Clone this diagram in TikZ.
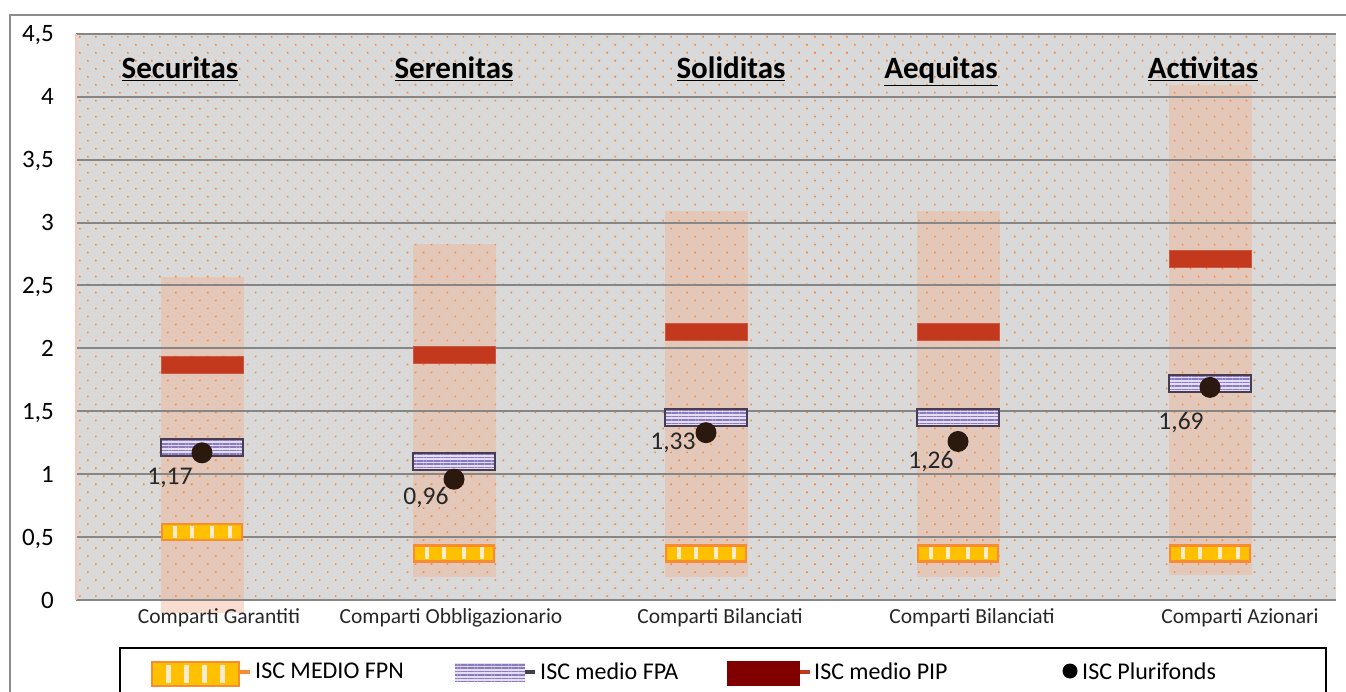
\documentclass[tikz,border=0pt]{standalone}
\usepackage{fontspec}
\setmainfont{Carlito}
\usetikzlibrary{patterns.meta}

\definecolor{plotbg}{RGB}{217,217,217}
\definecolor{gridgray}{RGB}{134,134,134}
\definecolor{framegray}{RGB}{140,140,140}
\definecolor{dotorange}{RGB}{247,135,50}
\definecolor{bandpeach}{RGB}{240,180,150}
\definecolor{salmonedge}{RGB}{250,200,180}
\definecolor{fpngold}{RGB}{255,192,0}
\definecolor{fpnedge}{RGB}{247,140,50}
\definecolor{fpnstripe}{RGB}{255,234,205}
\definecolor{fpafill}{RGB}{228,222,242}
\definecolor{fpaline}{RGB}{140,122,192}
\definecolor{fpaedge}{RGB}{72,60,82}
\definecolor{pipred}{RGB}{194,57,30}
\definecolor{pipdark}{RGB}{128,0,0}
\definecolor{plurdot}{RGB}{43,24,14}

\tikzset{
  gridline/.style={gridgray, line width=2pt},
  band/.style={fill=bandpeach, fill opacity=0.45},
  pipbar/.style={fill=pipred, draw=pipred!85!white, line width=0.8pt},
  fpabar/.style={preaction={fill=fpafill}, pattern={Lines[angle=0,distance=3.4pt,line width=1.5pt]}, pattern color=fpaline},
  fpnbar/.style={fill=fpngold, draw=fpnedge, line width=2.5pt},
  ticklab/.style={font=\fontsize{25}{28}\selectfont, inner sep=0pt},
  catlab/.style={font=\fontsize{21.5}{24}\selectfont, inner sep=0pt, anchor=base, text=black!85},
  titlelab/.style={font=\fontsize{31}{35}\selectfont\bfseries, inner sep=0pt, anchor=base},
  vallab/.style={font=\fontsize{25.5}{28}\selectfont, inner sep=0pt, anchor=base, text=black!85},
  leglab/.style={font=\fontsize{24}{27}\selectfont, inner sep=0pt, anchor=west}
}

\begin{document}
\begin{tikzpicture}[x=1pt,y=-1pt]
\useasboundingbox (0,0) rectangle (1346,692);
% frame
\draw[framegray, line width=2pt] (10,700) -- (10,15) -- (1350,15);
% plot area
\fill[plotbg] (76,34) rectangle (1336,600);

\begin{scope}[shift={(76,600)}, x=252pt, y=125.8pt]
  % ranges behind the grid
  \foreach \c/\top/\bot in {0.5/2.57/-0.1, 1.5/2.83/0.18, 2.5/3.09/0.18, 3.5/3.09/0.18, 4.5/4.09/0.2}
    \fill[band] ([xshift=-41.5pt]\c,\bot) rectangle ([xshift=41.5pt]\c,\top);
  \fill[pattern={Dots[radius=1.1pt,distance=11.3pt,angle=45]}, pattern color=dotorange] (0,0) rectangle (5,4.5);
  \foreach \v in {0,0.5,...,4.5}
    \draw[gridline] (0,\v) -- (5,\v);
  \foreach \v/\t [count=\k] in {0/0,0.5/{0,5},1/1,1.5/{1,5},2/2,2.5/{2,5},3/3,3.5/{3,5},4/4,4.5/{4,5}}
    \node[ticklab, anchor=base east] (tick\k) at ([xshift=-22pt,yshift=-8pt]0,\v) {\t};
  \draw[salmonedge, line width=2pt] (0,0) -- (0,4.5);
  % one column per fund
  \foreach \c/\pip/\fpa/\fpn/\isc in {0.5/1.87/1.21/0.54/1.17, 1.5/1.95/1.10/0.37/0.96,
      2.5/2.13/1.45/0.37/1.33, 3.5/2.13/1.45/0.37/1.26, 4.5/2.71/1.72/0.37/1.69} {
    \draw[pipbar] ([xshift=-41pt,yshift=-8.5pt]\c,\pip) rectangle ([xshift=41pt,yshift=8.5pt]\c,\pip);
    \path[fpabar] ([xshift=-41pt,yshift=-8.5pt]\c,\fpa) rectangle ([xshift=41pt,yshift=8.5pt]\c,\fpa);
    \draw[fpaedge, line width=2pt] ([xshift=-41pt,yshift=-8.5pt]\c,\fpa) rectangle ([xshift=41pt,yshift=8.5pt]\c,\fpa);
    \draw[fpnbar] ([xshift=-40pt,yshift=-8pt]\c,\fpn) rectangle ([xshift=40pt,yshift=8pt]\c,\fpn);
    \foreach \s in {-27,-10,10,28}
      \fill[fpnstripe] ([xshift={(\s-2)*1pt},yshift=-6pt]\c,\fpn) rectangle ([xshift={(\s+2)*1pt},yshift=6pt]\c,\fpn);
    \fill[plurdot] (\c,\isc) circle (10.5pt);
  }
\end{scope}

% fund names
\node[titlelab] (securitas) at (180,79) {\underline{Securitas}};
\node[titlelab] (serenitas) at (454,79) {\underline{Serenitas}};
\node[titlelab] (soliditas) at (731,79) {\underline{Soliditas}};
\node[titlelab] (aequitas) at (941,79) {\underline{Aequitas}};
\node[titlelab] (activitas) at (1203,79) {\underline{Activitas}};

% values
\node[vallab] (val1) at (170,484) {1,17};
\node[vallab] (val2) at (426,504) {0,96};
\node[vallab] (val3) at (673,449) {1,33};
\node[vallab] (val4) at (931,468) {1,26};
\node[vallab] (val5) at (1181,429) {1,69};

% categories
\node[catlab] (cat1) at (219,623) {Comparti Garantiti};
\node[catlab] (cat2) at (451,623) {Comparti Obbligazionario};
\node[catlab] (cat3) at (720,623) {Comparti Bilanciati};
\node[catlab] (cat4) at (972,623) {Comparti Bilanciati};
\node[catlab] (cat5) at (1240,623) {Comparti Azionari};

% legend
\draw[black, line width=2pt] (120,700) -- (120,648) -- (1326,648) -- (1326,700);
\draw[fpnbar] (152,662) rectangle (239,686);
\foreach \s in {166,184,202,220}
  \fill[fpnstripe] (\s,665) rectangle (\s+5,683);
\draw[fpnedge, line width=4pt] (240,672) -- (250,672);
\node[leglab] (legFPN) at (255,671) {ISC MEDIO FPN};
\path[fpabar] (455,663) rectangle (525,681);
\draw[fpaedge, line width=4pt] (525,672) -- (535,672);
\node[leglab] (legFPA) at (540,671) {ISC medio FPA};
\fill[pipdark] (727,661) rectangle (800,686);
\draw[pipred, line width=4pt] (800,672) -- (810,672);
\node[leglab] (legPIP) at (814,671) {ISC medio PIP};
\fill[black] (1070,671) circle (7.5pt);
\node[leglab] (legPlur) at (1082,671) {ISC Plurifonds};
\end{tikzpicture}
\end{document}
